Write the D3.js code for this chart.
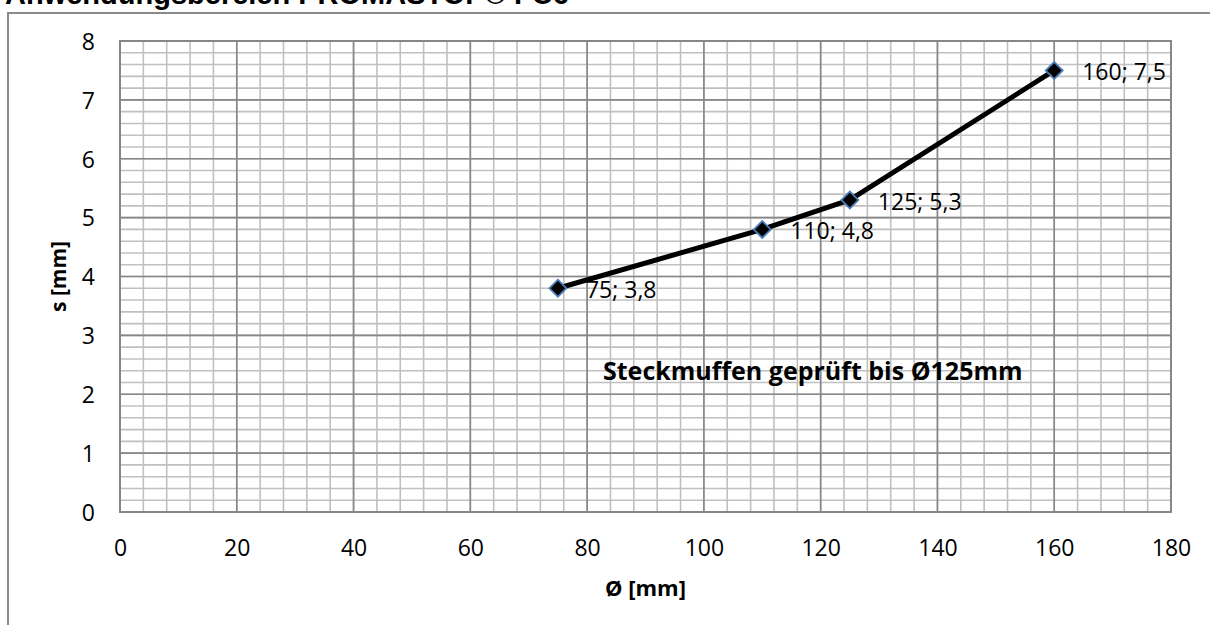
<!DOCTYPE html>
<html><head><meta charset="utf-8">
<script src="https://cdn.jsdelivr.net/npm/d3@7"></script>
<style>body{margin:0;background:#fff}svg{display:block}</style>
</head><body>
<script>
const xValues = [75, 110, 125, 160];
const yValues = [3.8, 4.8, 5.3, 7.5];
const pointLabels = ["75; 3,8", "110; 4,8", "125; 5,3", "160; 7,5"];
const xTicks = [0, 20, 40, 60, 80, 100, 120, 140, 160, 180];
const yTicks = [0, 1, 2, 3, 4, 5, 6, 7, 8];
const titleText = "Anwendungsbereich PROMASTOP® FC6";
const xTitle = "Ø [mm]";
const yTitle = "s [mm]";
const noteText = "Steckmuffen geprüft bis Ø125mm";

const W = 1210, H = 625;
const svg = d3.select("body").append("svg").attr("width", W).attr("height", H);
const L = 120, R = 1171, T = 41, B = 512;
const x = d3.scaleLinear().domain([0, 180]).range([L, R]);
const y = d3.scaleLinear().domain([0, 8]).range([B, T]);
const font = "'Open Sans', Lato, sans-serif";

// outer frame
svg.append("rect").attr("x", 8).attr("y", 13).attr("width", 1300).attr("height", 700)
  .attr("fill", "none").attr("stroke", "#8a8a8a").attr("stroke-width", 2);

// title (partially cut off at top)
svg.append("text").attr("x", 5).attr("y", 4).text(titleText)
  .attr("font-family", "'Liberation Sans', Arial, sans-serif").attr("font-weight", "bold")
  .attr("font-size", 29).attr("fill", "#000");

// minor grid
const g = svg.append("g");
const minorX = d3.range(0, 180.01, 4);
const minorY = d3.range(0, 8.001, 0.2);
g.selectAll(".mx").data(minorX).enter().append("line")
  .attr("x1", d => x(d)).attr("x2", d => x(d)).attr("y1", T).attr("y2", B)
  .attr("stroke", "#c0c0c0").attr("stroke-width", 1.6);
g.selectAll(".my").data(minorY).enter().append("line")
  .attr("y1", d => y(d)).attr("y2", d => y(d)).attr("x1", L).attr("x2", R)
  .attr("stroke", "#c0c0c0").attr("stroke-width", 1.6);
// major grid
g.selectAll(".Mx").data(xTicks).enter().append("line")
  .attr("x1", d => x(d)).attr("x2", d => x(d)).attr("y1", T).attr("y2", B)
  .attr("stroke", "#878787").attr("stroke-width", 1.6);
g.selectAll(".My").data(yTicks).enter().append("line")
  .attr("y1", d => y(d)).attr("y2", d => y(d)).attr("x1", L).attr("x2", R)
  .attr("stroke", "#878787").attr("stroke-width", 1.6);
// plot border
svg.append("rect").attr("x", L).attr("y", T).attr("width", R - L).attr("height", B - T)
  .attr("fill", "none").attr("stroke", "#878787").attr("stroke-width", 2);

// axes (labels only)
const xAxis = svg.append("g").attr("transform", `translate(0,${B})`)
  .call(d3.axisBottom(x).tickValues(xTicks).tickSize(0));
xAxis.select(".domain").remove();
xAxis.selectAll("text").attr("y", 556 - B).attr("dy", 0)
  .attr("font-family", font).attr("font-size", 23).attr("fill", "#000");
const yAxis = svg.append("g").attr("transform", `translate(${L},0)`)
  .call(d3.axisLeft(y).tickValues(yTicks).tickSize(0).tickPadding(25));
yAxis.select(".domain").remove();
yAxis.selectAll("text").attr("dy", "0.36em")
  .attr("font-family", font).attr("font-size", 23).attr("fill", "#000");

// axis titles
svg.append("text").attr("x", (L + R) / 2).attr("y", 596).attr("text-anchor", "middle")
  .attr("font-family", font).attr("font-weight", "bold").attr("font-size", 22).text(xTitle);
svg.append("text").attr("transform", `translate(66,${(T + B) / 2}) rotate(-90)`)
  .attr("text-anchor", "middle").attr("font-family", font).attr("font-weight", "bold")
  .attr("font-size", 21).text(yTitle);

// line
const pts = xValues.map((v, i) => [v, yValues[i]]);
svg.append("path").datum(pts)
  .attr("d", d3.line().x(d => x(d[0])).y(d => y(d[1])))
  .attr("fill", "none").attr("stroke", "#000").attr("stroke-width", 5).attr("stroke-linejoin", "round");

// markers
svg.selectAll(".mk").data(pts).enter().append("path")
  .attr("transform", d => `translate(${x(d[0])},${y(d[1])}) rotate(45)`)
  .attr("d", "M-6,-6H6V6H-6Z")
  .attr("fill", "#000").attr("stroke", "#4a7ebb").attr("stroke-width", 1.8);

// point labels
svg.selectAll(".pl").data(pts).enter().append("text")
  .attr("x", d => x(d[0]) + 28).attr("y", d => y(d[1]) + 10)
  .attr("font-family", font).attr("font-size", 23).attr("fill", "#000")
  .text((d, i) => pointLabels[i]);

// note
svg.append("text").attr("x", 603).attr("y", 380).text(noteText)
  .attr("font-family", font).attr("font-weight", "bold").attr("font-size", 25).attr("fill", "#000");
</script>
</body></html>
